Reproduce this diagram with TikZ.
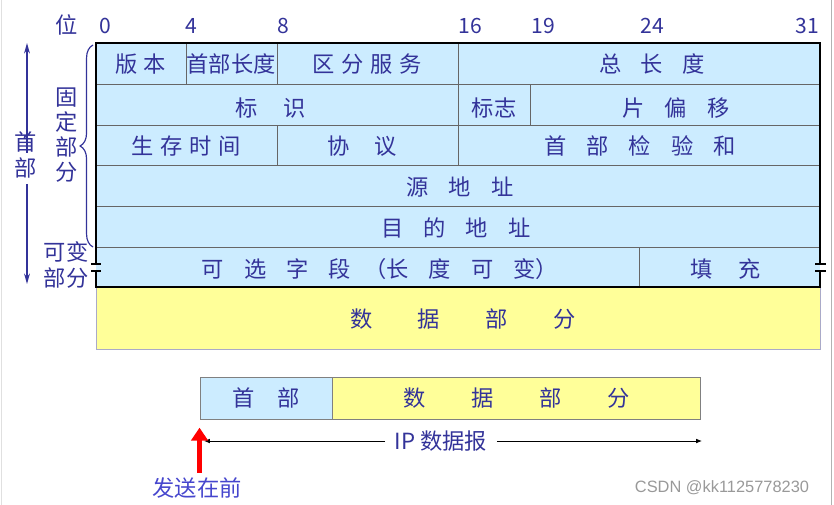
\documentclass[tikz,border=0pt]{standalone}
\usepackage{fontspec}
\newfontfamily\cjk{Noto Sans CJK SC}
\newfontfamily\wmfont{Liberation Sans}
\usetikzlibrary{positioning, arrows.meta, decorations.pathreplacing}

\definecolor{hdrblue}{RGB}{204,236,255}
\definecolor{datayellow}{RGB}{255,255,153}
\definecolor{labelblue}{RGB}{51,51,153}
\definecolor{sendblue}{RGB}{70,70,205}
\definecolor{databorder}{RGB}{170,170,200}

\newcommand{\gp}[1]{\hspace{#1em}}

\begin{document}
\begin{tikzpicture}[
        x=0.03cm, y=-0.03cm,
        every node/.style={
                inner sep=0pt,
                text=labelblue,
                font=\cjk\fontsize{19}{21.5}\selectfont
            },
        bitnum/.style={font=\cjk\fontsize{18}{20}\selectfont},
        gridline/.style={draw=black!60, line width=0.7pt},
        frameline/.style={draw=black, line width=1.4pt},
        boxed/.style={draw=black!50, line width=0.8pt, minimum height=1.26cm}
    ]

\useasboundingbox (0,0) rectangle (834,505);
\draw[black!12, line width=0.6pt] (1.5,0) -- (1.5,505);
\draw[black!30, line width=0.6pt] (831.5,0) -- (831.5,505);

% header and data areas
\fill[hdrblue] (96,43) rectangle (820,287);
\fill[datayellow] (96,287) rectangle (820,349);
\draw[databorder, line width=0.8pt] (96,287) -- (96,349) -- (820,349) -- (820,287);

\foreach \y in {84,125,165,206,247}
    \draw[gridline] (96,\y) -- (820,\y);
\draw[gridline] (186,43) -- (186,84);
\draw[gridline] (277,43) -- (277,84);
\draw[gridline] (458,43) -- (458,165);
\draw[gridline] (530,84) -- (530,125);
\draw[gridline] (277,125) -- (277,165);
\draw[gridline] (639,247) -- (639,287);

% outer frame with break marks
\draw[frameline] (96,264) -- (96,43) -- (820,43) -- (820,264);
\draw[frameline] (96,271) -- (96,287) -- (820,287) -- (820,271);
\draw[black, line width=1pt] (91,264) -- (101,264) (91,271) -- (101,271);
\draw[black, line width=1pt] (815,264) -- (826,264) (815,271) -- (826,271);

% bit positions
\node (pos) at (67,25) {位};
\node[bitnum] (b0) at (105,26) {0};
\node[bitnum] (b4) at (191,26) {4};
\node[bitnum] (b8) at (283,26) {8};
\node[bitnum] (b16) at (470,26) {16};
\node[bitnum] (b19) at (543,26) {19};
\node[bitnum] (b24) at (652,26) {24};
\node[bitnum] (b31) at (807,26) {31};

% fields
\node (ver) at (141,64) {版\gp{0.25}本};
\node (hlen) at (231,64) {首部长度};
\node (tos) at (367,64) {区\gp{0.3}分\gp{0.3}服\gp{0.3}务};
\node (tlen) at (652,64) {总\gp{0.85}长\gp{0.85}度};
\node (ident) at (271,108) {标\gp{1.15}识};
\node (flags) at (494,108) {标志};
\node (frag) at (676,108) {片\gp{0.9}偏\gp{0.9}移};
\node (ttl) at (186,146) {生\gp{0.3}存\gp{0.3}时\gp{0.3}间};
\node (proto) at (362,146) {协\gp{1.1}议};
\node (csum) at (640,146) {首\gp{0.9}部\gp{0.9}检\gp{0.9}验\gp{0.9}和};
\node (src) at (460,187) {源\gp{0.9}地\gp{0.9}址};
\node (dst) at (456,228) {目\gp{0.9}的\gp{0.9}地\gp{0.9}址};
\node (opt) at (380,269) {可\gp{0.9}选\gp{0.9}字\gp{0.9}段\gp{0.6}（长\gp{0.9}度\gp{0.9}可\gp{0.9}变）};
\node (pad) at (726,269) {填\gp{1.15}充};
\node (data) at (463,319) {数\gp{2.05}据\gp{2.05}部\gp{2.05}分};

% left side labels
\draw[labelblue, line width=1pt, decorate, decoration={brace, amplitude=11pt}]
    (93,247) -- (93,45);
\node[align=center, font=\cjk\fontsize{19}{21.5}\selectfont] (fixed) at (67,135) {固\\定\\部\\分};
\node[align=center, font=\cjk\fontsize{19}{21.5}\selectfont] (var) at (66,265) {可变\\部分};
\node[align=center, font=\cjk\fontsize{19}{21.5}\selectfont] (hdrside) at (26,155) {首\\部};
\coordinate (hdrtop) at (27,43);
\coordinate (hdrbot) at (27,284);
\draw[labelblue, line width=1.2pt, -{Stealth[length=9pt, width=5pt]}, shorten <=-18pt]
    (hdrside.north -| hdrtop) -- (hdrtop);
\draw[labelblue, line width=1.2pt, -{Stealth[length=9pt, width=5pt]}, shorten <=5pt]
    (hdrside.south -| hdrbot) -- (hdrbot);

% IP datagram
\node[boxed, fill=hdrblue, minimum width=3.96cm] (bhdr) at (266,398) {首\gp{1}部};
\node[boxed, fill=datayellow, minimum width=11.04cm, right=0pt of bhdr] (bdata)
    {数\gp{2.05}据\gp{2.05}部\gp{2.05}分};

\node[inner sep=8pt] (iplbl) at (441,441) {IP 数据报};
\coordinate (ipleft) at (204,441);
\coordinate (ipright) at (702,441);
\draw[line width=0.7pt, -{Latex[length=5pt, width=4pt]}] (iplbl) -- (ipleft);
\draw[line width=0.7pt, -{Latex[length=5pt, width=4pt]}] (iplbl) -- (ipright);

\node[text=sendblue] (send) at (197,488) {发送在前};
\draw[red, line width=5pt, -{Triangle[length=11pt, width=14pt]}, shorten <=4pt, shorten >=7pt]
    (send.north -| bhdr.south west) -- (bhdr.south west);

\node[text=black!40, font=\wmfont\fontsize{14}{16}\selectfont] (wm) at (722,488) {CSDN @kk1125778230};

\end{tikzpicture}
\end{document}
